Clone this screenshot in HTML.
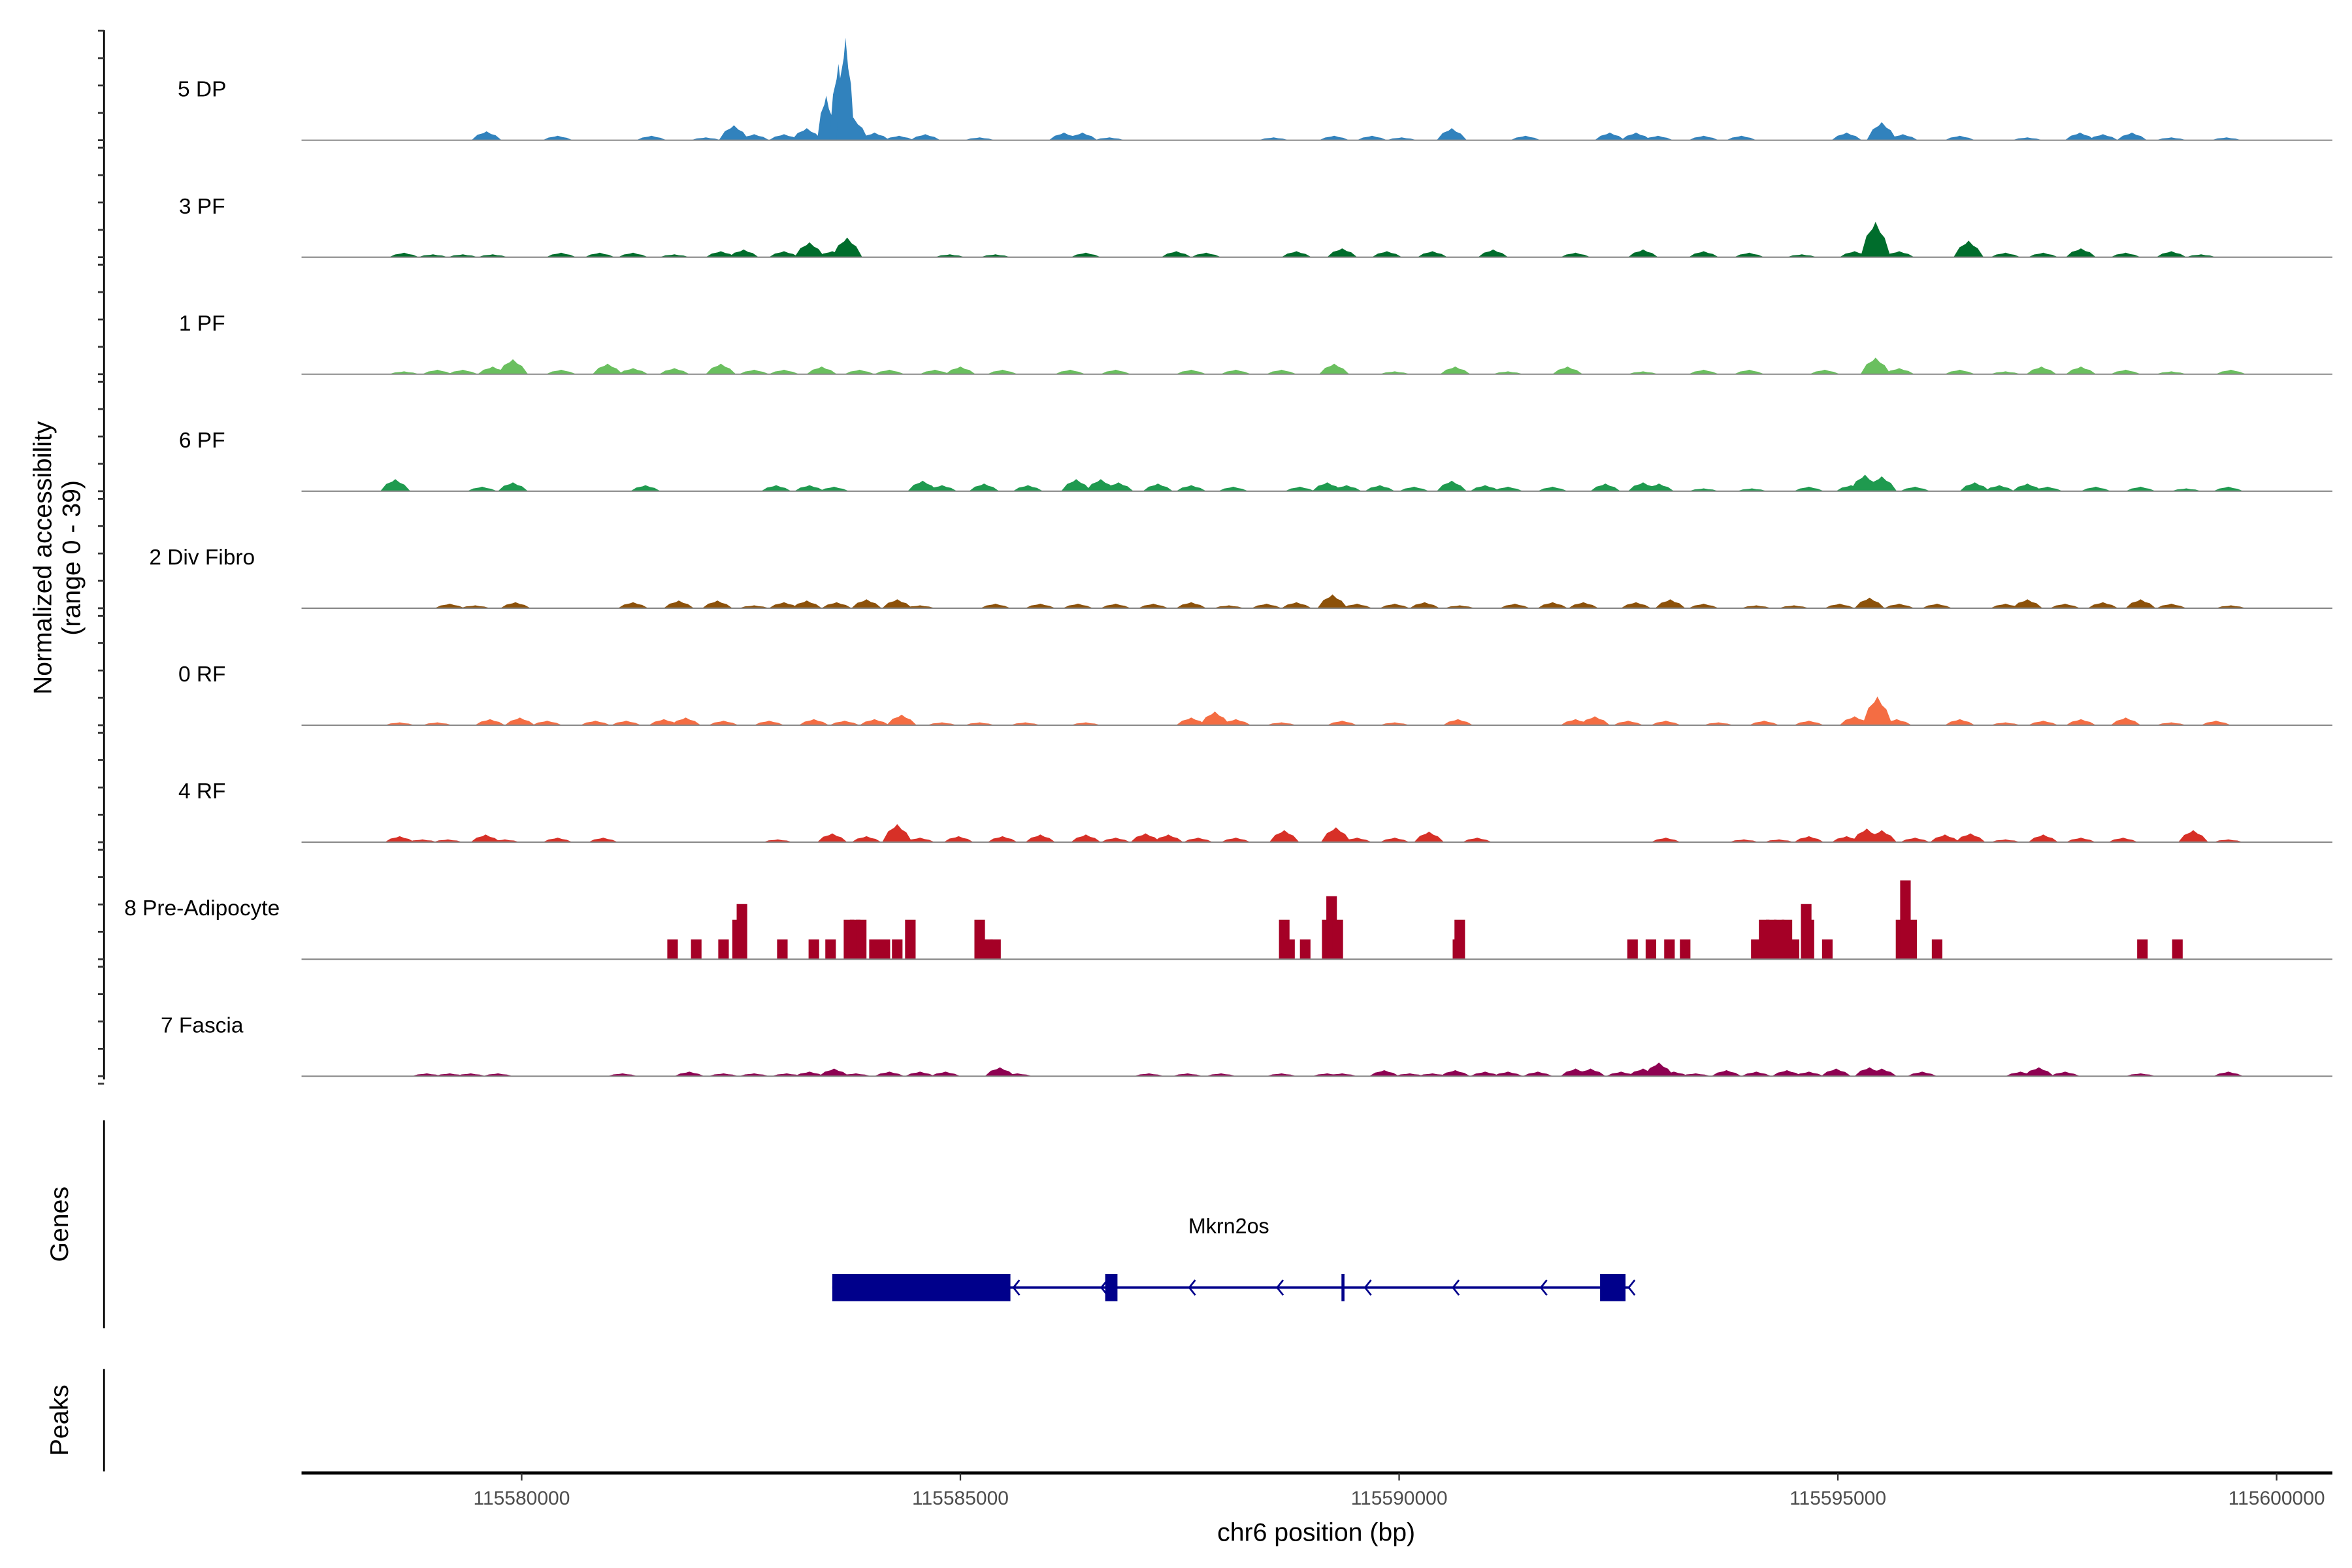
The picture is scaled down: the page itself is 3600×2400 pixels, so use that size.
<!DOCTYPE html>
<html><head><meta charset="utf-8"><style>
html,body{margin:0;padding:0;background:#fff;}
svg{display:block;font-family:"Liberation Sans",sans-serif;}
</style></head><body>
<svg id="chart" width="3600" height="2400" viewBox="0 0 1560 1040" xmlns="http://www.w3.org/2000/svg">
<g id="tracks"></g>
<g id="yaxis"></g>
<text transform="translate(34,370) rotate(-90)" text-anchor="middle" font-size="17">Normalized accessibility</text>
<text transform="translate(53,370) rotate(-90)" text-anchor="middle" font-size="17">(range 0 - 39)</text>
<line x1="69" y1="743" x2="69" y2="881" stroke="#000" stroke-width="1.2"/>
<text transform="translate(45,812) rotate(-90)" text-anchor="middle" font-size="17">Genes</text>
<line x1="69" y1="908" x2="69" y2="976" stroke="#000" stroke-width="1.2"/>
<text transform="translate(45,942) rotate(-90)" text-anchor="middle" font-size="17">Peaks</text>
<g id="gene"></g>
<g id="xaxis"></g>
<text x="873" y="1022" text-anchor="middle" font-size="17">chr6 position (bp)</text>
</svg>
<script>
// genomic offsets in kb relative to 115580000
const regionBase = 115580000;
const trackNames = ["5 DP","3 PF","1 PF","6 PF","2 Div Fibro","0 RF","4 RF","8 Pre-Adipocyte","7 Fascia"];
const trackColors = ["#3182bd","#006d2c","#6abf5f","#1f9a4f","#8c510a","#f46d43","#d73027","#a50026","#8e0152"];
const pos5DP = [-0.40,0.41,1.48,2.10,2.42,2.65,2.99,3.25,3.47,3.61,3.69,3.78,4.02,4.30,4.60,5.22,6.18,6.39,6.70,8.57,9.26,9.69,10.03,10.60,11.44,12.40,12.70,12.95,13.47,13.90,15.10,15.50,15.74,16.39,17.16,17.76,18.02,18.35,18.80,19.43];
const val5DP = [3.4,1.7,1.7,1.1,5.7,2.3,2.3,4.6,17,29,39,8.6,2.9,1.7,2.3,1.1,2.9,2.9,1.1,1.1,1.7,1.7,1.1,4.6,1.7,2.9,2.9,1.7,1.7,1.7,2.9,6.9,2.3,1.7,1.1,2.9,2.3,2.9,1.1,1.1];
const pos3PF = [-1.34,-1.01,-0.67,-0.33,0.45,0.89,1.27,1.74,2.27,2.53,2.99,3.28,3.54,3.71,4.88,5.40,6.43,7.46,7.80,8.83,9.35,9.86,10.38,11.07,12.01,12.78,13.47,13.99,14.59,15.19,15.43,15.70,16.49,16.91,17.34,17.77,18.28,18.80,19.14];
const val3PF = [1.7,1.1,1.1,1.1,1.7,1.7,1.7,1.1,2.3,2.9,2.3,5.7,2.3,7.5,1.1,1.1,1.7,2.3,1.7,2.3,3.4,2.3,2.3,2.9,1.7,2.9,2.3,1.7,1.1,2.3,13.5,2.3,6.3,1.7,1.7,3.4,1.7,2.3,1.1];
const pos1PF = [-1.34,-0.96,-0.67,-0.33,-0.10,0.45,0.98,1.27,1.74,2.27,2.65,2.99,3.42,3.85,4.19,4.71,5.00,5.48,6.25,6.77,7.63,8.14,8.66,9.26,9.95,10.64,11.24,11.92,12.78,13.47,13.99,14.85,15.43,15.70,16.39,16.91,17.32,17.77,18.28,18.80,19.48];
const val1PF = [1.1,1.7,1.7,2.9,5.7,1.7,4.0,2.3,2.3,4.0,1.7,1.7,2.9,1.7,1.7,1.7,2.9,1.7,1.7,1.7,1.7,1.7,1.7,4.0,1.1,2.9,1.1,2.9,1.1,1.7,1.7,1.7,6.3,2.3,1.7,1.1,2.9,2.9,1.7,1.1,1.7];
const pos6PF = [-1.44,-0.45,-0.10,1.41,2.90,3.28,3.56,4.57,4.79,5.27,5.77,6.32,6.60,6.80,7.25,7.63,8.11,8.87,9.18,9.40,9.78,10.17,10.60,10.98,11.24,11.75,12.35,12.78,12.96,13.47,14.02,14.67,15.15,15.31,15.50,15.88,16.56,16.84,17.16,17.39,17.94,18.45,18.97,19.45];
const val6PF = [4.6,1.7,3.4,2.3,2.3,2.3,1.7,4.0,2.3,2.9,2.3,4.6,4.6,3.4,2.9,2.3,1.7,1.7,3.4,2.3,2.3,1.7,4.0,2.3,1.7,1.7,2.9,3.4,2.9,1.1,1.1,1.7,2.3,6.3,5.7,1.7,3.4,2.3,2.9,1.7,1.7,1.7,1.1,1.7];
const posDiv = [-0.82,-0.53,-0.07,1.27,1.79,2.23,2.65,2.99,3.25,3.59,3.93,4.28,4.54,5.40,5.91,6.34,6.77,7.20,7.63,8.06,8.49,8.83,9.24,9.52,9.95,10.29,10.69,11.32,11.75,12.10,12.70,13.09,13.47,14.07,14.50,15.02,15.36,15.70,16.13,16.91,17.16,17.59,18.02,18.45,18.80,19.48];
const valDiv = [1.7,1.1,2.3,2.3,2.9,2.9,1.1,2.3,2.9,2.3,3.4,3.4,1.1,1.7,1.7,1.7,1.7,1.7,2.3,1.1,1.7,2.3,5.2,1.7,1.7,2.3,1.1,1.7,2.3,2.3,2.3,3.4,1.7,1.1,1.1,1.7,4.0,1.7,1.7,1.7,3.4,1.7,2.3,3.4,1.7,1.1];
const pos0RF = [-1.39,-0.96,-0.36,-0.02,0.29,0.84,1.19,1.62,1.87,2.30,2.82,3.33,3.68,4.02,4.33,4.79,5.22,5.74,6.43,7.63,7.90,8.14,8.66,9.35,9.95,10.67,12.01,12.23,12.61,13.04,13.64,14.16,14.67,15.19,15.45,15.67,16.39,16.91,17.34,17.77,18.28,18.80,19.31];
const val0RF = [1.1,1.1,2.3,2.9,1.7,1.7,1.7,2.3,2.9,1.7,1.7,2.3,1.7,2.3,4.0,1.1,1.1,1.1,1.1,2.9,5.2,2.3,1.1,1.7,1.1,2.3,2.3,3.4,1.7,1.7,1.1,1.7,1.7,3.4,10.9,2.3,2.3,1.1,1.7,2.3,2.9,1.1,1.7];
const pos4RF = [-1.39,-1.13,-0.84,-0.41,-0.19,0.41,0.93,2.92,3.54,3.93,4.28,4.54,4.98,5.48,5.91,6.43,6.77,7.11,7.37,7.71,8.14,8.69,9.28,9.52,9.95,10.34,10.89,13.04,13.93,14.33,14.67,15.10,15.33,15.50,15.88,16.22,16.51,16.91,17.34,17.77,18.25,19.05,19.45];
const val4RF = [2.3,1.1,1.1,2.9,1.1,1.7,1.7,1.1,3.4,2.3,6.9,1.7,2.3,2.3,2.9,2.9,1.7,3.4,2.9,1.7,1.7,4.6,5.7,1.7,1.7,4.0,1.7,1.7,1.1,1.1,2.3,2.3,5.2,4.6,1.7,2.9,3.4,1.1,2.9,1.7,1.7,4.6,1.1];
const posPre = [1.72,1.99,2.30,2.46,2.51,2.97,3.33,3.52,3.73,3.80,3.87,4.02,4.14,4.28,4.43,5.22,5.31,5.40,8.69,8.75,8.93,9.18,9.23,9.30,10.67,10.69,12.66,12.87,13.08,13.26,14.07,14.16,14.24,14.33,14.42,14.50,14.64,14.67,14.88,15.72,15.77,15.84,16.13,18.47,18.87];
const valPre = [7.5,7.5,7.5,15,21,7.5,7.5,7.5,15,15,15,7.5,7.5,7.5,15,15,7.5,7.5,15,7.5,7.5,15,24,15,7.5,15,7.5,7.5,7.5,7.5,7.5,15,15,15,15,7.5,21,15,7.5,15,30,15,7.5,7.5,7.5];
const posFas = [-1.08,-0.82,-0.58,-0.27,1.15,1.91,2.30,2.65,3.02,3.28,3.56,3.81,4.19,4.54,4.83,5.45,5.65,7.15,7.59,7.97,8.66,9.18,9.35,9.83,10.12,10.38,10.64,10.98,11.24,11.58,12.01,12.18,12.53,12.78,12.96,13.13,13.38,13.73,14.07,14.42,14.67,14.98,15.36,15.50,15.96,17.08,17.29,17.59,18.45,19.45];
const valFas = [1.1,1.1,1.1,1.1,1.1,1.7,1.1,1.1,1.1,1.7,2.9,1.1,1.7,1.7,1.7,3.4,1.1,1.1,1.1,1.1,1.1,1.1,1.1,2.3,1.1,1.1,2.3,1.7,1.7,1.7,2.9,2.9,1.7,2.9,5.2,1.7,1.1,2.3,1.7,2.3,1.7,2.9,3.4,2.9,1.7,1.7,3.4,1.7,1.1,1.7];
const xTicks = [115580000,115585000,115590000,115595000,115600000];
const exonStarts = [3.54,6.65,12.29];
const exonEnds = [5.57,6.79,12.58];
const cdsMark = [9.36];
const geneStart = 3.54, geneEnd = 12.62;
const yMax = 39;

const ns = "http://www.w3.org/2000/svg";
const X0 = 346, PXKB = 58.2;
function xs(kb){ return X0 + kb*PXKB; }
function ys(v){ return v*68/yMax; }
function mk(tag, attrs, parent){ const e=document.createElementNS(ns,tag); for(const k in attrs) e.setAttribute(k,attrs[k]); parent.appendChild(e); return e; }

const posAll = [pos5DP,pos3PF,pos1PF,pos6PF,posDiv,pos0RF,pos4RF,posPre,posFas];
const valAll = [val5DP,val3PF,val1PF,val6PF,valDiv,val0RF,val4RF,valPre,valFas];
const tracksG = document.getElementById('tracks');
const yaxisG = document.getElementById('yaxis');
const TOP = 20, SP = 77.6;
mk('line',{x1:69,y1:20,x2:69,y2:716,stroke:'#000','stroke-width':1.2},yaxisG);
for(let t=0;t<9;t++){
  const base = TOP + 73 + t*SP;
  const g = mk('g',{},tracksG);
  
  
  const lab = mk('text',{x:134,y:base-29,'text-anchor':'middle','font-size':14.5},g);
  lab.textContent = trackNames[t];
  
  
  const P = posAll[t], V = valAll[t];
  const step = (t===7);
  for(let i=0;i<P.length;i++){
    const c = xs(P[i]), h = ys(V[i]);
    let pts;
    if(step){
      const w = 3.5;
      pts = [[c-w,base],[c-w,base-h],[c+w,base-h],[c+w,base]];
    } else {
      const w = (t===0 && V[i]>15) ? 6 : 10;
      pts = [[c-w,base],[c-w*0.6,base-h*0.6],[c-w*0.2,base-h*0.8],[c,base-h],[c+w*0.3,base-h*0.7],[c+w*0.6,base-h*0.55],[c+w,base]];
    }
    const p = mk('polygon',{points:pts.map(q=>q[0].toFixed(1)+','+q[1].toFixed(1)).join(' '),fill:trackColors[t]},g);
    
    
  }
  const bl = mk('line',{x1:200,y1:base,x2:1547,y2:base,stroke:'#888','stroke-width':0.9},g);
  
  
  for(let k=0;k<5;k++){
    const ty = base - 72.6 + k*18.15;
    mk('line',{x1:65,y1:ty,x2:69,y2:ty,stroke:'#333','stroke-width':1.2},yaxisG);
  }
  mk('line',{x1:65,y1:base+5,x2:69,y2:base+5,stroke:'#333','stroke-width':1.2},yaxisG);
}
// gene
const geneG = document.getElementById('gene');
mk('line',{x1:xs(geneStart),y1:854,x2:xs(geneEnd),y2:854,stroke:'#00008b','stroke-width':1.6},geneG);
for(let i=0;i<exonStarts.length;i++){
  const r = mk('rect',{x:xs(exonStarts[i]),y:845,width:xs(exonEnds[i])-xs(exonStarts[i]),height:18,fill:'#00008b'},geneG);
  
  
}
for(const m of cdsMark) mk('rect',{x:xs(m)-1,y:845,width:2,height:18,fill:'#00008b'},geneG);
for(let k=0;k<8;k++){
  const cx = xs(exonEnds[0]) + 2 + k*58.3;
  if(cx > xs(geneEnd)+4) break;
  mk('polyline',{points:(cx+4)+',849 '+cx+',854 '+(cx+4)+',859',fill:'none',stroke:'#00008b','stroke-width':1.2},geneG);
}
const gl = mk('text',{x:815,y:818,'text-anchor':'middle','font-size':14},geneG);
gl.textContent='Mkrn2os';


// x axis
const xa = document.getElementById('xaxis');
mk('line',{x1:200,y1:977,x2:1547,y2:977,stroke:'#000','stroke-width':2},xa);
for(const t of xTicks){
  const x = xs((t-regionBase)/1000);
  mk('line',{x1:x,y1:977,x2:x,y2:982,stroke:'#333','stroke-width':1},xa);
  const tx = mk('text',{x:x,y:998,'text-anchor':'middle','font-size':13,fill:'#4d4d4d'},xa);
  tx.textContent = String(t);
  
  
}
</script>
</body></html>
